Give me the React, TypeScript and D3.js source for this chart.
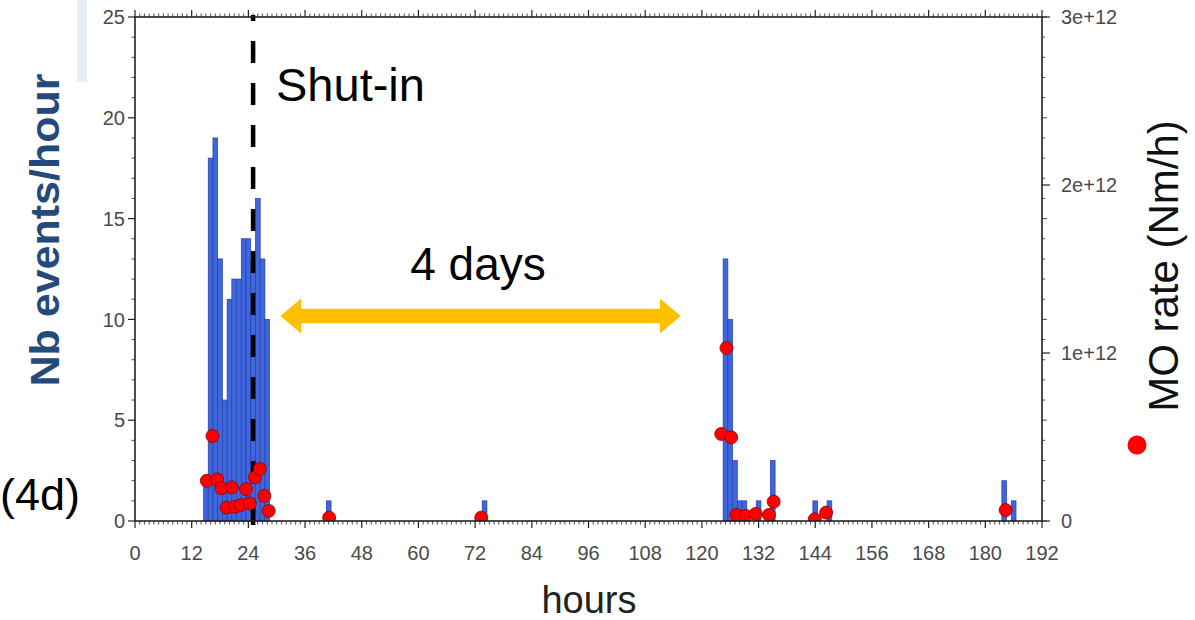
import React from "react";
import * as d3 from "d3";

// ---- data ----
const barHours = [15, 16, 17, 18, 19, 20, 21, 22, 23, 24, 25, 26, 27, 28, 41, 74, 125, 126, 127, 128, 129, 132, 135, 144, 147, 184, 186];
const barCounts = [2, 18, 19, 13, 6, 11, 12, 12, 14, 14, 13, 16, 13, 10, 1, 1, 13, 10, 3, 1, 1, 1, 3, 1, 1, 2, 1];

const moHours = [15.2, 16.4, 17.4, 18.3, 19.4, 20.5, 21.2, 22.4, 23.5, 24.3, 25.4, 26.4, 27.4, 28.3, 41.1, 73.3, 124.1, 125.2, 126.2, 127.3, 129.3, 131.4, 134.2, 135.2, 143.9, 146.3, 184.3];
const moRates = [0.24e12, 0.506e12, 0.248e12, 0.195e12, 0.08e12, 0.2e12, 0.085e12, 0.095e12, 0.19e12, 0.105e12, 0.26e12, 0.31e12, 0.15e12, 0.06e12, 0.02e12, 0.02e12, 0.518e12, 1.03e12, 0.498e12, 0.036e12, 0.03e12, 0.042e12, 0.036e12, 0.115e12, 0.01e12, 0.05e12, 0.065e12];

const xTicks = [0, 12, 24, 36, 48, 60, 72, 84, 96, 108, 120, 132, 144, 156, 168, 180, 192];
const yTicks = [0, 5, 10, 15, 20, 25];
const yRTicks = [0, 1e12, 2e12, 3e12];
const yRLabels = ["0", "1e+12", "2e+12", "3e+12"];
const shutInHour = 25;
const arrowFromHour = 31;
const arrowToHour = 115.3;

export default function App() {
  const W = 1195, H = 620;
  const x = d3.scaleLinear().domain([0, 192]).range([135, 1042]);
  const y = d3.scaleLinear().domain([0, 25]).range([521, 17]);
  const yR = d3.scaleLinear().domain([0, 3e12]).range([521, 17]);
  const [x0, x1] = x.range();
  const [yb, yt] = y.range();
  const bw = x(1) - x(0);
  const font = "'Liberation Sans', Arial, Helvetica, sans-serif";
  const tickCol = "#222";
  const labelCol = "#4a4a4a";

  const minorX = d3.range(0, 193, 1);
  const minorY = d3.range(0, 26, 1);

  const ay = 316;
  const axL = x(arrowFromHour);
  const axR = x(arrowToHour);
  const headL = 19, headH = 16, shaft = 6.5;
  const arrowPath = `M${axL},${ay} L${axL + headL},${ay - headH} L${axL + headL},${ay - shaft} L${axR - headL},${ay - shaft} L${axR - headL},${ay - headH} L${axR},${ay} L${axR - headL},${ay + headH} L${axR - headL},${ay + shaft} L${axL + headL},${ay + shaft} L${axL + headL},${ay + headH} Z`;

  return (
    <svg width={W} height={H} style={{ position: "absolute", left: 0, top: 0, background: "#fff" }} fontFamily={font}>
      <defs>
        <clipPath id="plotClip">
          <rect x={x0} y={yt} width={x1 - x0} height={yb - yt} />
        </clipPath>
      </defs>
      <rect x={77} y={0} width={10} height={82} fill="#e9eef6" />

      {/* bars */}
      <g>
        {barHours.map((h, i) => (
          <rect key={i} x={x(h - 0.5)} y={y(barCounts[i])} width={bw} height={yb - y(barCounts[i])}
            fill="#3f66dc" stroke="#2340a8" strokeWidth={0.7} />
        ))}
      </g>

      {/* shut-in line */}
      <line x1={x(shutInHour)} x2={x(shutInHour)} y1={15} y2={528} stroke="#000" strokeWidth={4.5}
        strokeDasharray="22 20" strokeDashoffset={16} />

      {/* MO dots */}
      <g clipPath="url(#plotClip)">
        {moHours.map((h, i) => (
          <circle key={i} cx={x(h)} cy={yR(moRates[i])} r={6.5} fill="#ff0000" stroke="#8a0000" strokeWidth={0.8} />
        ))}
      </g>

      {/* frame */}
      <rect x={x0} y={yt} width={x1 - x0} height={yb - yt} fill="none" stroke={tickCol} strokeWidth={1.6} />

      {/* bottom & top ticks */}
      {minorX.map((t) => {
        const big = t % 12 === 0;
        return (
          <g key={"xt" + t}>
            <line x1={x(t)} x2={x(t)} y1={yb} y2={yb + (big ? 7 : 3.5)} stroke={tickCol} strokeWidth={big ? 1.2 : 0.8} />
            <line x1={x(t)} x2={x(t)} y1={yt} y2={yt - (big ? 7 : 3.5)} stroke={tickCol} strokeWidth={big ? 1.2 : 0.8} />
          </g>
        );
      })}
      {/* left & right (mirror) ticks */}
      {minorY.map((t) => {
        const big = t % 5 === 0;
        return (
          <g key={"yt" + t}>
            <line x1={x0} x2={x0 - (big ? 7 : 3.5)} y1={y(t)} y2={y(t)} stroke={tickCol} strokeWidth={big ? 1.2 : 0.8} />
            <line x1={x1} x2={x1 + (big ? 5 : 3)} y1={y(t)} y2={y(t)} stroke={tickCol} strokeWidth={0.8} />
          </g>
        );
      })}
      {yRTicks.map((t) => (
        <line key={"yr" + t} x1={x1} x2={x1 + 8} y1={yR(t)} y2={yR(t)} stroke={tickCol} strokeWidth={1.2} />
      ))}

      {/* tick labels */}
      {xTicks.map((t) => (
        <text key={"xl" + t} x={x(t)} y={560} textAnchor="middle" fontSize={20} fill={labelCol}>{t}</text>
      ))}
      {yTicks.map((t) => (
        <text key={"yl" + t} x={125} y={y(t)} dy="0.36em" textAnchor="end" fontSize={20} fill={labelCol}>{t}</text>
      ))}
      {yRTicks.map((t, i) => (
        <text key={"yrl" + t} x={1061} y={yR(t)} dy="0.36em" textAnchor="start" fontSize={20} fill={labelCol}>{yRLabels[i]}</text>
      ))}

      {/* arrow */}
      <path d={arrowPath} fill="#ffc000" stroke="#ffc000" strokeWidth={1.5} strokeLinejoin="round" />

      {/* annotations */}
      <text x={276} y={101} fontSize={47} fill="#000">Shut-in</text>
      <text x={478} y={280} fontSize={46} textAnchor="middle" fill="#000">4 days</text>
      <text x={0} y={510} fontSize={45} fill="#000">(4d)</text>
      <text x={589} y={613} fontSize={38} textAnchor="middle" fill="#222">hours</text>
      <text transform={`translate(59,230) rotate(-90)`} textAnchor="middle" fontSize={41} fontWeight="bold" fill="#244a7c"
        textLength={313} lengthAdjust="spacingAndGlyphs">Nb events/hour</text>
      <text transform={`translate(1178,266) rotate(-90)`} textAnchor="middle" fontSize={42} fill="#111">MO rate (Nm/h)</text>
      <circle cx={1137} cy={445} r={9.5} fill="#ff0000" />
    </svg>
  );
}
